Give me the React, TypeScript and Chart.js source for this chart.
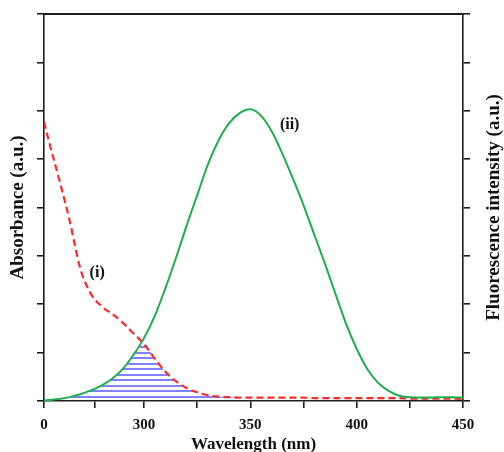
import React, { useEffect, useRef } from 'react';
import { Chart, registerables } from 'chart.js';

Chart.register(...registerables);

// Wavelength grid (nm) shared by both spectra
const wavelengths = [253, 255, 260, 265, 270, 275, 280, 285, 290, 295, 300, 305, 310, 315, 320, 325, 330, 335, 340, 345, 350, 355, 360, 365, 370, 375, 380, 385, 390, 395, 400, 405, 410, 415, 420, 425, 430, 435, 440, 445, 450];
// (ii) Fluorescence emission (a.u.)
const fluorescence = [0.01, 0.02, 0.04, 0.08, 0.14, 0.22, 0.32, 0.46, 0.66, 0.95, 1.30, 1.75, 2.32, 2.95, 3.62, 4.25, 4.88, 5.38, 5.74, 5.95, 6.03, 5.90, 5.58, 5.12, 4.60, 4.05, 3.45, 2.85, 2.22, 1.60, 1.08, 0.66, 0.38, 0.21, 0.11, 0.08, 0.07, 0.07, 0.08, 0.08, 0.07];
// (i) Absorbance (a.u.)
const absorbance = [5.77, 5.42, 4.60, 3.74, 2.75, 2.22, 1.96, 1.80, 1.62, 1.40, 1.18, 0.88, 0.61, 0.41, 0.27, 0.18, 0.12, 0.09, 0.08, 0.07, 0.07, 0.07, 0.07, 0.07, 0.07, 0.07, 0.06, 0.06, 0.06, 0.06, 0.06, 0.06, 0.06, 0.06, 0.06, 0.05, 0.05, 0.05, 0.05, 0.05, 0.04];

const overlapRange = [260, 345];

const xMin = 253;
const xMax = 450;
const xTickValues = [253, 277, 300, 325, 350, 375, 400, 425, 450];
const xTickLabels = ['0', '', '300', '', '350', '', '400', '', '450'];
const yMin = 0;
const yMax = 8;

const annotationTexts = ['(i)', '(ii)'];
const annotationX = [278, 368.5];
const annotationY = [2.64, 5.7];

const leftTitle = 'Absorbance (a.u.)';
const rightTitle = 'Fluorescence intensity (a.u.)';
const bottomTitle = 'Wavelength (nm)';

const SERIF = '"Liberation Serif", "Times New Roman", serif';
const AXIS = '#1e1e1e';

export default function App() {
  const ref = useRef<HTMLCanvasElement>(null);

  useEffect(() => {
    const canvas = ref.current;
    if (!canvas) return;

    const pc = document.createElement('canvas');
    pc.width = 8;
    pc.height = 11;
    const pctx = pc.getContext('2d')!;
    pctx.fillStyle = '#8282ff';
    pctx.fillRect(0, 0, 8, 2);
    pctx.fillRect(0, 5, 8, 2);
    const ctx0 = canvas.getContext('2d')!;
    const hatch = ctx0.createPattern(pc, 'repeat');

    const fluoData = wavelengths.map((w, i) => ({ x: w, y: fluorescence[i] }));
    const absData = wavelengths.map((w, i) => ({ x: w, y: absorbance[i] }));
    const overlapData = wavelengths
      .map((w, i) => ({ x: w, y: Math.min(fluorescence[i], absorbance[i]) }))
      .filter((p) => p.x >= overlapRange[0] && p.x <= overlapRange[1]);

    const annot = {
      id: 'annot',
      afterDraw(chart: any) {
        const { ctx, chartArea } = chart;
        const xs = chart.scales.x;
        const ys = chart.scales.y;
        ctx.save();
        ctx.fillStyle = '#111';
        ctx.textAlign = 'center';
        ctx.textBaseline = 'middle';
        ctx.font = `bold 16px ${SERIF}`;
        annotationTexts.forEach((t, i) => {
          ctx.fillText(t, xs.getPixelForValue(annotationX[i]), ys.getPixelForValue(annotationY[i]));
        });
        ctx.font = `bold 19px ${SERIF}`;
        ctx.translate(chart.width - 10, (chartArea.top + chartArea.bottom) / 2);
        ctx.rotate(-Math.PI / 2);
        ctx.fillText(rightTitle, 0, 0);
        ctx.restore();
      },
    };

    const chart = new Chart(canvas, {
      type: 'line',
      data: {
        datasets: [
          {
            label: '(ii)',
            data: fluoData,
            borderColor: '#1fae4e',
            borderWidth: 2,
            pointRadius: 0,
            fill: false,
            cubicInterpolationMode: 'monotone',
          },
          {
            label: '(i)',
            data: absData,
            borderColor: '#ff2a2a',
            borderWidth: 2.2,
            borderDash: [7, 4],
            pointRadius: 0,
            fill: false,
            cubicInterpolationMode: 'monotone',
          },
          {
            label: 'overlap',
            data: overlapData,
            borderWidth: 0,
            borderColor: 'rgba(0,0,0,0)',
            backgroundColor: hatch as any,
            pointRadius: 0,
            fill: 'origin',
            cubicInterpolationMode: 'monotone',
          },
        ],
      },
      options: {
        responsive: false,
        animation: false,
        events: [],
        layout: { padding: { top: 14, left: 0, right: 0, bottom: 0 } },
        plugins: { legend: { display: false }, tooltip: { enabled: false }, title: { display: false } },
        scales: {
          x: {
            type: 'linear',
            position: 'bottom',
            min: xMin,
            max: xMax,
            afterBuildTicks: (scale: any) => {
              scale.ticks = xTickValues.map((v) => ({ value: v }));
            },
            afterFit: (scale: any) => {
              scale.height = 51;
            },
            ticks: {
              autoSkip: false,
              maxRotation: 0,
              padding: 8,
              color: '#111',
              font: { family: SERIF, size: 15, weight: 'bold' },
              callback: (v: any) => {
                const i = xTickValues.indexOf(Number(v));
                return i >= 0 ? xTickLabels[i] : '';
              },
            },
            grid: { drawOnChartArea: false, drawTicks: true, tickLength: 7, color: AXIS, lineWidth: 1.6 },
            border: { display: true, color: AXIS, width: 1.6 },
            title: {
              display: true,
              text: bottomTitle,
              color: '#111',
              font: { family: SERIF, size: 17, weight: 'bold', lineHeight: 1 },
              padding: { top: 0, bottom: -1 },
            },
          },
          x2: {
            type: 'linear',
            position: 'top',
            min: xMin,
            max: xMax,
            afterFit: (scale: any) => {
              scale.height = 0;
            },
            ticks: { display: false },
            grid: { drawOnChartArea: false, drawTicks: false },
            border: { display: true, color: AXIS, width: 2 },
          },
          y: {
            type: 'linear',
            position: 'left',
            min: yMin,
            max: yMax,
            afterFit: (scale: any) => {
              scale.width = 44;
            },
            ticks: { display: false, stepSize: 1 },
            grid: { drawOnChartArea: false, drawTicks: true, tickLength: 7, color: AXIS, lineWidth: 1.6 },
            border: { display: true, color: AXIS, width: 1.6 },
            title: {
              display: true,
              text: leftTitle,
              color: '#111',
              font: { family: SERIF, size: 19, weight: 'bold', lineHeight: 1.2 },
              padding: { top: 7, bottom: 0 },
            },
          },
          y2: {
            type: 'linear',
            position: 'right',
            min: yMin,
            max: yMax,
            afterFit: (scale: any) => {
              scale.width = 41;
            },
            ticks: { display: false, stepSize: 1 },
            grid: { drawOnChartArea: false, drawTicks: true, tickLength: 7, color: AXIS, lineWidth: 1.6 },
            border: { display: true, color: AXIS, width: 1.6 },
          },
        },
      } as any,
      plugins: [annot],
    });

    return () => chart.destroy();
  }, []);

  return (
    <div style={{ position: 'fixed', left: 0, top: 0, width: 504, height: 452, background: '#fff' }}>
      <canvas ref={ref} width={504} height={452} style={{ width: 504, height: 452, display: 'block' }} />
    </div>
  );
}
